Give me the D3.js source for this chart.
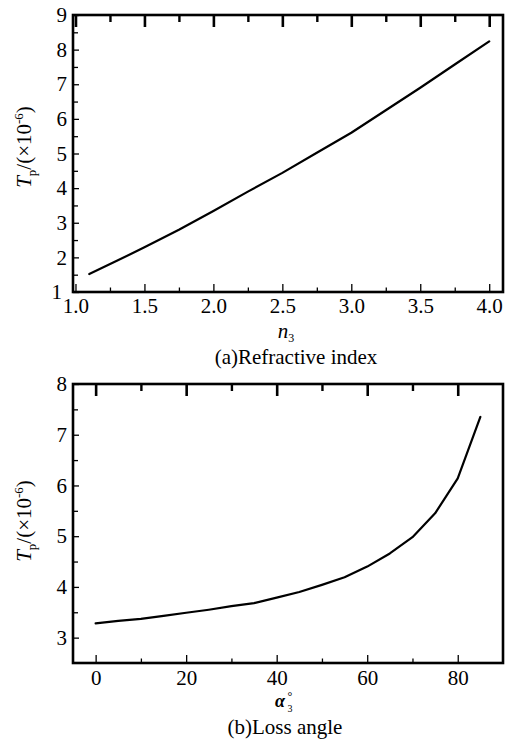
<!DOCTYPE html>
<html>
<head>
<meta charset="utf-8">
<script src="https://cdn.jsdelivr.net/npm/d3@7"></script>
<style>
  html, body { margin: 0; padding: 0; background: #fff; }
  svg { display: block; }
  text { font-family: "Liberation Serif", "Times New Roman", "DejaVu Serif", serif; fill: #000; }
</style>
</head>
<body>
<svg id="chart" width="511" height="739"></svg>
<script>
// ---- Data ----
// Panel (a): refractive index n3 vs Tp (x10^-6)
const refractiveIndex = [1.1, 1.3, 1.5, 1.75, 2.0, 2.25, 2.5, 2.75, 3.0, 3.25, 3.5, 3.75, 4.0];
const tpByIndex = [1.52, 1.90, 2.29, 2.80, 3.34, 3.90, 4.44, 5.02, 5.60, 6.25, 6.90, 7.57, 8.24];
const indexTicks = [1.0, 1.5, 2.0, 2.5, 3.0, 3.5, 4.0];
const indexMinorTicks = [1.25, 1.75, 2.25, 2.75, 3.25, 3.75];
const tpTicksA = [1, 2, 3, 4, 5, 6, 7, 8, 9];
const tpMinorTicksA = [1.5, 2.5, 3.5, 4.5, 5.5, 6.5, 7.5, 8.5];

// Panel (b): loss angle alpha3 (deg) vs Tp (x10^-6)
const lossAngle = [0, 5, 10, 15, 20, 25, 30, 35, 40, 45, 50, 55, 60, 65, 70, 75, 80, 85];
const tpByAngle = [3.28, 3.33, 3.37, 3.43, 3.49, 3.55, 3.62, 3.68, 3.79, 3.90, 4.04, 4.19, 4.40, 4.66, 4.98, 5.45, 6.14, 7.35];
const angleTicks = [0, 20, 40, 60, 80];
const angleMinorTicks = [10, 30, 50, 70];
const tpTicksB = [3, 4, 5, 6, 7, 8];
const tpMinorTicksB = [3.5, 4.5, 5.5, 6.5, 7.5];

const titles = ["(a)Refractive index", "(b)Loss angle"];

const svg = d3.select("#chart");
const FS = 21;

function panel(opt) {
  const g = svg.append("g");
  const x = d3.scaleLinear().domain(opt.xDomain).range([opt.left, opt.right]);
  const y = d3.scaleLinear().domain(opt.yDomain).range([opt.bottom, opt.top]);

  // bottom axis: major with labels, ticks inward
  g.append("g").attr("transform", `translate(0,${opt.bottom})`)
    .call(d3.axisBottom(x).tickValues(opt.xTicks).tickSize(-8).tickPadding(opt.xPad).tickFormat(opt.xFmt));
  g.append("g").attr("transform", `translate(0,${opt.bottom})`)
    .call(d3.axisBottom(x).tickValues(opt.xMinor).tickSize(-4.5).tickFormat(""));
  // top axis: inward ticks, no labels
  g.append("g").attr("transform", `translate(0,${opt.top})`)
    .call(d3.axisTop(x).tickValues(opt.xTicks).tickSize(-12).tickFormat(""))
    .selectAll("line").attr("stroke-width", 2.6);
  g.append("g").attr("transform", `translate(0,${opt.top})`)
    .call(d3.axisTop(x).tickValues(opt.xMinor).tickSize(-7).tickFormat(""))
    .selectAll("line").attr("stroke-width", 2.4);
  // left axis
  const ly = g.append("g").attr("transform", `translate(${opt.left},0)`)
    .call(d3.axisLeft(y).tickValues(opt.yTicks).tickSize(-6).tickPadding(6).tickFormat(d3.format("d")));
  g.append("g").attr("transform", `translate(${opt.left},0)`)
    .call(d3.axisLeft(y).tickValues(opt.yMinor).tickSize(-5).tickFormat(""));
  if (opt.nudgeFirstY) {
    ly.selectAll(".tick").filter(d => d === opt.yDomain[0]).select("text").attr("x", -6 - opt.nudgeFirstY);
  }

  g.selectAll(".domain").remove();
  g.selectAll(".tick text").style("font-size", FS + "px")
    .style("font-family", "'Liberation Serif', 'Times New Roman', 'DejaVu Serif', serif");
  g.selectAll(".tick line").filter(function () { return !this.getAttribute("stroke-width"); })
    .attr("stroke-width", 1.3);

  // frame
  g.append("rect")
    .attr("x", opt.left).attr("y", opt.top)
    .attr("width", opt.right - opt.left).attr("height", opt.bottom - opt.top)
    .attr("fill", "none").attr("stroke", "#000").attr("stroke-width", 2.6);

  // curve
  const pts = opt.xs.map((v, i) => [v, opt.ys[i]]);
  g.append("path").datum(pts)
    .attr("fill", "none").attr("stroke", "#000").attr("stroke-width", 2.2)
    .attr("stroke-linejoin", "round").attr("stroke-linecap", "round")
    .attr("d", d3.line().x(d => x(d[0])).y(d => y(d[1])));

  // y label: T_p/(×10^-6)
  const yl = g.append("text")
    .attr("transform", `translate(31,${opt.yLabelY}) rotate(-90)`)
    .attr("text-anchor", "middle")
    .style("font-size", FS + "px");
  yl.append("tspan").style("font-style", "italic").text("T");
  yl.append("tspan").attr("dy", 5).style("font-size", "13px").text("p");
  yl.append("tspan").attr("dy", -5).text("/(\u00D710");
  yl.append("tspan").attr("dy", -8).style("font-size", "13px").text("-6");
  yl.append("tspan").attr("dy", 8).text(")");

  // title
  g.append("text").attr("x", opt.titleX).attr("y", opt.titleY)
    .attr("text-anchor", "middle").style("font-size", FS + "px").text(opt.title);
  return g;
}

const ga = panel({
  xDomain: [0.982, 4.1], yDomain: [1, 9],
  left: 73, right: 503, top: 15, bottom: 292,
  xTicks: indexTicks, xMinor: indexMinorTicks, xFmt: d3.format(".1f"), xPad: 6,
  yTicks: tpTicksA, yMinor: tpMinorTicksA, nudgeFirstY: 5,
  xs: refractiveIndex, ys: tpByIndex,
  yLabelY: 147, title: titles[0], titleX: 296, titleY: 364
});
// x label n3
const nl = ga.append("text").attr("x", 286).attr("y", 338).attr("text-anchor", "middle").style("font-size", "21px");
nl.append("tspan").style("font-style", "italic").text("n");
nl.append("tspan").attr("dy", 4).style("font-size", "12px").text("3");

const gb = panel({
  xDomain: [-5, 90], yDomain: [2.5, 8],
  left: 73, right: 503, top: 384, bottom: 663,
  xTicks: angleTicks, xMinor: angleMinorTicks, xFmt: d3.format("d"), xPad: 7,
  yTicks: tpTicksB, yMinor: tpMinorTicksB,
  xs: lossAngle, ys: tpByAngle,
  yLabelY: 521, title: titles[1], titleX: 285, titleY: 734
});
// x label alpha3 with degree
gb.append("text").attr("x", 280).attr("y", 707).attr("text-anchor", "middle")
  .style("font-size", "18px").style("font-style", "italic").style("font-weight", "bold").text("\u03B1");
gb.append("text").attr("x", 290).attr("y", 700).attr("text-anchor", "middle")
  .style("font-size", "12px").text("\u00B0");
gb.append("text").attr("x", 290).attr("y", 712).attr("text-anchor", "middle")
  .style("font-size", "10px").text("3");
</script>
</body>
</html>
